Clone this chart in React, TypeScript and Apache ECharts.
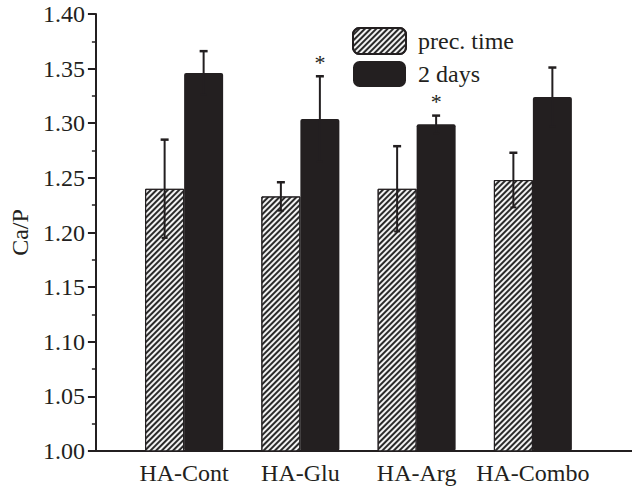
import React, { useEffect, useRef } from "react";
import * as echarts from "echarts";

const categories = ["HA-Cont", "HA-Glu", "HA-Arg", "HA-Combo"];
const precMean = [1.24, 1.233, 1.24, 1.248];
const precErr = [0.045, 0.013, 0.039, 0.025];
const daysMean = [1.346, 1.304, 1.299, 1.324];
const daysErr = [0.02, 0.039, 0.008, 0.027];
const significant = [false, true, true, false];
const seriesNames = ["prec. time", "2 days"];

const FONT = "Liberation Serif";
const INK = "#231f20";
const BAR_W = 39;

function errorRender(offset: number, star: boolean) {
  return (params: any, api: any) => {
    const i = api.value(0);
    const mean = api.value(1);
    const err = api.value(2);
    const top = api.coord([i, mean + err]);
    const bot = api.coord([i, mean - err]);
    const x = top[0] + offset;
    const children: any[] = [
      { type: "line", shape: { x1: x, y1: top[1], x2: x, y2: bot[1] }, style: { stroke: INK, lineWidth: 2 } },
      { type: "line", shape: { x1: x - 4, y1: top[1], x2: x + 4, y2: top[1] }, style: { stroke: INK, lineWidth: 2.5 } },
      { type: "line", shape: { x1: x - 3, y1: bot[1], x2: x + 3, y2: bot[1] }, style: { stroke: INK, lineWidth: 2 } },
    ];
    if (star && significant[i]) {
      children.push({
        type: "text",
        x: x,
        y: top[1] - 3,
        style: { text: "*", fill: INK, fontFamily: FONT, fontSize: 22, align: "center", verticalAlign: "bottom" },
      });
    }
    return { type: "group", children };
  };
}

export default function App() {
  const ref = useRef<HTMLDivElement>(null);
  useEffect(() => {
    if (!ref.current) return;
    const chart = echarts.init(ref.current, null, { renderer: "svg" });
    chart.setOption({
      animation: false,
      backgroundColor: "#fff",
      textStyle: { fontFamily: FONT },
      grid: [
        { left: 126, right: 41, top: 14, bottom: 36 },
        { left: 88, right: 0, top: 14, bottom: 36 },
      ],
      legend: {
        orient: "vertical",
        left: 352,
        top: 27,
        padding: 0,
        itemWidth: 53,
        itemHeight: 26,
        itemGap: 6,
        icon: "roundRect",
        data: seriesNames,
        textStyle: { fontFamily: FONT, fontSize: 24, color: INK, padding: [0, 0, 0, 7] },
      },
      xAxis: [
        {
          type: "category",
          gridIndex: 0,
          data: categories,
          axisLine: { show: false },
          axisTick: { show: false },
          axisLabel: { fontFamily: FONT, fontSize: 24, color: INK, margin: 10, interval: 0 },
        },
        {
          type: "value",
          gridIndex: 1,
          min: 0,
          max: 1,
          axisLine: { show: true, lineStyle: { color: INK, width: 2 } },
          axisTick: { show: false },
          axisLabel: { show: false },
          splitLine: { show: false },
        },
      ],
      yAxis: [
        {
          type: "value",
          gridIndex: 0,
          min: 1.0,
          max: 1.4,
          show: false,
          splitLine: { show: false },
        },
        {
          type: "value",
          gridIndex: 1,
          min: 1.0,
          max: 1.4,
          interval: 0.05,
          name: "Ca/P",
          nameLocation: "middle",
          nameGap: 62,
          nameTextStyle: { fontFamily: FONT, fontSize: 24, color: INK },
          axisLine: { show: true, lineStyle: { color: INK, width: 2 } },
          axisTick: { show: true, length: 8, lineStyle: { color: INK, width: 2 } },
          minorTick: { show: true, splitNumber: 2, length: 4, lineStyle: { color: INK, width: 1.5 } },
          axisLabel: {
            fontFamily: FONT,
            fontSize: 24,
            color: INK,
            margin: 11,
            formatter: (v: number) => v.toFixed(2),
          },
          splitLine: { show: false },
        },
      ],
      series: [
        {
          name: seriesNames[0],
          type: "bar",
          xAxisIndex: 0,
          yAxisIndex: 0,
          barWidth: BAR_W,
          barGap: "0%",
          data: precMean,
          itemStyle: {
            color: "#f2f2f2",
            borderColor: INK,
            borderWidth: 1,
            decal: {
              symbol: "rect",
              symbolSize: 1,
              color: "#2a2a2a",
              dashArrayX: [1, 0],
              dashArrayY: [2, 2],
              rotation: -Math.PI / 4,
            },
          },
        },
        {
          name: seriesNames[1],
          type: "bar",
          xAxisIndex: 0,
          yAxisIndex: 0,
          barWidth: BAR_W,
          barGap: "0%",
          data: daysMean,
          itemStyle: { color: INK, borderRadius: 2 },
        },
        {
          type: "custom",
          xAxisIndex: 0,
          yAxisIndex: 0,
          z: 5,
          renderItem: errorRender(-BAR_W / 2, false),
          data: precMean.map((m, i) => [i, m, precErr[i]]),
          silent: true,
        },
        {
          type: "custom",
          xAxisIndex: 0,
          yAxisIndex: 0,
          z: 5,
          renderItem: errorRender(BAR_W / 2, true),
          data: daysMean.map((m, i) => [i, m, daysErr[i]]),
          silent: true,
        },
      ],
    });
    return () => chart.dispose();
  }, []);
  return (
    <div
      ref={ref}
      style={{ position: "fixed", left: 0, top: 0, width: 632, height: 487 }}
    />
  );
}
